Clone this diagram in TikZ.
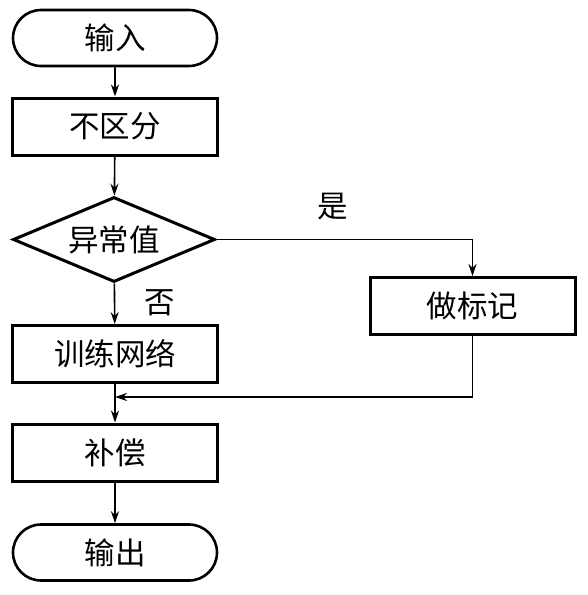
\documentclass[tikz,border=0pt]{standalone}
\usepackage{fontspec}
\newfontfamily\cjk{Noto Sans CJK SC}
\usetikzlibrary{shapes.geometric,shapes.misc,arrows.meta}
\begin{document}
\begin{tikzpicture}[x=1pt,y=-1pt,
  txt/.style={font=\cjk\fontsize{30.5}{34}\selectfont},
  term/.style={txt,draw,line width=2.6pt,rounded rectangle,minimum width=204pt,minimum height=56pt,inner sep=0pt},
  proc/.style={txt,draw,line width=3pt,rectangle,minimum width=205pt,minimum height=57pt,inner sep=0pt},
  dec/.style={txt,draw,line width=3pt,diamond,aspect=2.4,minimum width=202pt,minimum height=85pt,inner sep=0pt},
  conn/.style={line width=1.6pt,-{Stealth[length=12pt,width=8pt]}},
  plain/.style={line width=1.6pt}]
\useasboundingbox (0,0) rectangle (588,595);
\node[term] (in) at (115,38) {输入};
\node[proc] (nd) at (115,126.5) {不区分};
\node[dec] (ab) at (114,239.5) {异常值};
\node[proc] (tr) at (115,354) {训练网络};
\node[proc] (mk) at (472.5,306) {做标记};
\node[proc] (cp) at (115,452.5) {补偿};
\node[term] (out) at (115,552.5) {输出};
\node[txt] (yes) at (333,207) {是};
\node[txt] (no) at (160,303) {否};
\coordinate (merge) at (115,397);
\draw[conn] (in) -- (nd);
\draw[conn] (nd) -- (ab);
\draw[conn] (ab) -- (tr);
\draw[conn] (ab.east) -| (mk.north);
\draw[plain] (tr.south) -- (merge);
\draw[conn] (mk.south) |- (merge);
\draw[conn] (merge) -- (cp);
\draw[conn] (cp) -- (out);
\end{tikzpicture}
\end{document}
